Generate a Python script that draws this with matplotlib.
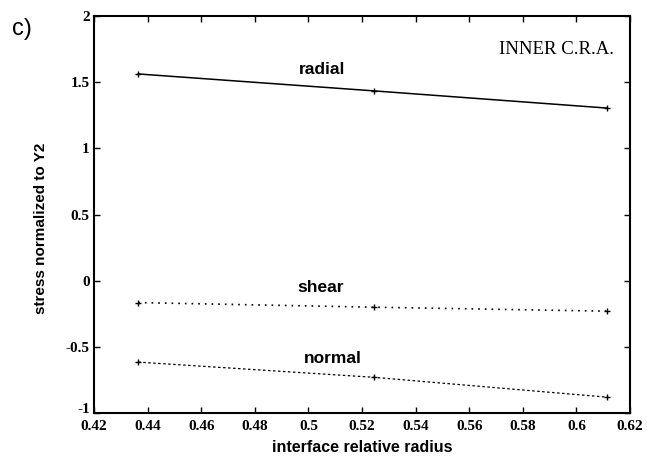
import numpy as np
import matplotlib.pyplot as plt
from matplotlib.transforms import offset_copy

# values
radius = [0.4365, 0.5245, 0.6115]
radial = [1.563, 1.435, 1.305]
shear = [-0.165, -0.20, -0.23]
normal = [-0.615, -0.73, -0.88]

fig = plt.figure(figsize=(6.47, 4.61), dpi=100)
ax = fig.add_axes([0.1453, 0.104, 0.8284, 0.861])

ax.plot(radius, radial, "k-", lw=1.1, marker="+", ms=4, mew=1)
ax.plot(radius, shear, color="k", ls=(0, (1, 3)), lw=1.2, marker="+", ms=4, mew=1)
ax.plot(radius, normal, color="k", ls=(0, (2, 2)), lw=0.9, marker="+", ms=4, mew=1)

ax.set_xlim(0.42, 0.62)
ax.set_ylim(-1, 2)
ax.set_xticks(np.arange(0.42, 0.6201, 0.02))
ax.set_xticklabels(["0.42", "0.44", "0.46", "0.48", "0.5", "0.52", "0.54", "0.56", "0.58", "0.6", "0.62"])
ax.set_yticks([-1, -0.5, 0, 0.5, 1, 1.5, 2])
ax.set_yticklabels(["-1", "-0.5", "0", "0.5", "1", "1.5", "2"])
ax.tick_params(direction="in", top=True, right=True, length=4, width=1, pad=3)
ax.tick_params(axis="x", pad=5)
for lab in ax.get_xticklabels() + ax.get_yticklabels():
    lab.set_fontfamily("Liberation Serif")
    lab.set_fontweight("bold")
    lab.set_fontsize(11)
for sp in ax.spines.values():
    sp.set_linewidth(1.5)

# "-1" sits a little higher so it clears "0.42"
ylab = ax.get_yticklabels()[0]
ylab.set_transform(offset_copy(ylab.get_transform(), fig=fig, x=0, y=4, units="points"))

ax.set_xlabel("interface relative radius", fontfamily="Liberation Sans", fontweight="bold", fontsize=11.5, labelpad=5)
ax.set_ylabel("stress normalized to Y2", fontfamily="Liberation Sans", fontweight="bold", fontsize=11)
ax.yaxis.set_label_coords(-0.085, 0.466)

ax.text(0.505, 1.60, "radial", ha="center", va="center", fontfamily="Liberation Sans", fontweight="bold", fontsize=12.5)
ax.text(0.5045, -0.05, "shear", ha="center", va="center", fontfamily="Liberation Sans", fontweight="bold", fontsize=12.5)
ax.text(0.509, -0.59, "normal", ha="center", va="center", fontfamily="Liberation Sans", fontweight="bold", fontsize=12.5)
ax.text(0.614, 1.75, "INNER C.R.A.", ha="right", va="center", fontfamily="Liberation Serif", fontsize=13.5)

fig.text(0.018, 0.925, "c)", fontfamily="Liberation Sans", fontsize=17)

fig.savefig("out.png", dpi=100)
